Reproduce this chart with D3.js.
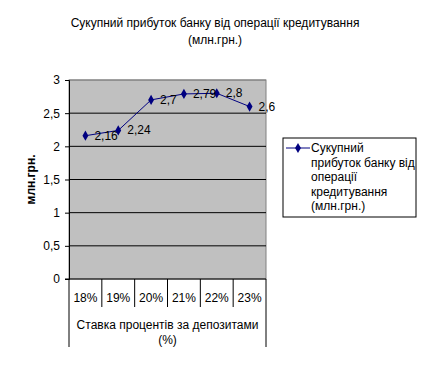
<!DOCTYPE html>
<html>
<head>
<meta charset="utf-8">
<script src="https://cdn.jsdelivr.net/npm/d3@7"></script>
<style>
  body { margin: 0; background: #fff; }
  svg { font-family: "Liberation Sans", Arial, sans-serif; }
</style>
</head>
<body>
<svg width="431" height="368"></svg>
<script>
// chart data
const categories = ["18%", "19%", "20%", "21%", "22%", "23%"];
const values = [2.16, 2.24, 2.7, 2.79, 2.8, 2.6];
const valueLabels = ["2,16", "2,24", "2,7", "2,79", "2,8", "2,6"];
const yTicks = [0, 0.5, 1, 1.5, 2, 2.5, 3];
const titleLines = ["Сукупний прибуток банку від операції кредитування", "(млн.грн.)"];
const yTitle = "млн.грн.";
const xTitleLines = ["Ставка процентів за депозитами", "(%)"];
const legendLines = ["Сукупний", "прибуток банку від", "операції", "кредитування", "(млн.грн.)"];

const svg = d3.select("svg");
const plotL = 69, plotR = 266, plotT = 80, plotB = 279;

const x = d3.scaleBand().domain(categories).range([plotL, plotR]);
const y = d3.scaleLinear().domain([0, 3]).range([plotB, plotT]);
const fmt = d => String(d).replace(".", ",");

// title
svg.append("g").selectAll("text").data(titleLines).join("text")
    .attr("x", 215).attr("y", (d, i) => 27 + i * 17)
    .attr("text-anchor", "middle")
    .attr("font-size", 12)
    .text(d => d);

// plot background
svg.append("rect")
    .attr("x", plotL).attr("y", plotT)
    .attr("width", plotR - plotL).attr("height", plotB - plotT)
    .attr("fill", "#c0c0c0").attr("stroke", "#808080");

// gridlines
svg.append("g").selectAll("line").data(yTicks.slice(1)).join("line")
    .attr("x1", plotL).attr("x2", plotR)
    .attr("y1", d => y(d)).attr("y2", d => y(d))
    .attr("stroke", d => d === 3 ? "#808080" : "#000");

// y axis
const yAxis = svg.append("g")
    .attr("transform", `translate(${plotL},0)`)
    .call(d3.axisLeft(y).tickValues(yTicks).tickFormat(fmt).tickSize(4).tickPadding(5));
yAxis.select(".domain").attr("stroke", "#000");
yAxis.selectAll("text").attr("font-size", 12).attr("font-family", "Liberation Sans, Arial, sans-serif").attr("fill", "#000");

// y title
svg.append("text")
    .attr("transform", `translate(35,${(plotT + plotB) / 2}) rotate(-90)`)
    .attr("text-anchor", "middle")
    .attr("font-size", 12).attr("font-weight", "bold")
    .text(yTitle);

// x axis table
svg.append("line").attr("x1", plotL - 4).attr("x2", plotR)
    .attr("y1", plotB).attr("y2", plotB).attr("stroke", "#000");
const bounds = categories.map(c => x(c)).concat([plotR]);
svg.append("g").selectAll("line").data(bounds).join("line")
    .attr("x1", d => d).attr("x2", d => d)
    .attr("y1", plotB)
    .attr("y2", (d, i) => (i === 0 || i === bounds.length - 1) ? 347 : 307)
    .attr("stroke", "#000");
svg.append("g").selectAll("text").data(categories).join("text")
    .attr("x", d => x(d) + x.bandwidth() / 2).attr("y", 302)
    .attr("text-anchor", "middle").attr("font-size", 12)
    .text(d => d);
svg.append("g").selectAll("text").data(xTitleLines).join("text")
    .attr("x", (plotL + plotR) / 2).attr("y", (d, i) => 329 + i * 15)
    .attr("text-anchor", "middle").attr("font-size", 12)
    .text(d => d);

// series
const cx = (d, i) => x(categories[i]) + x.bandwidth() / 2;
svg.append("path")
    .datum(values)
    .attr("fill", "none").attr("stroke", "#000080").attr("stroke-width", 1)
    .attr("d", d3.line().x(cx).y(d => y(d)));
const diamond = d3.symbol().type(d3.symbolDiamond).size(30);
svg.append("g").selectAll("path").data(values).join("path")
    .attr("transform", (d, i) => `translate(${cx(d, i)},${y(d)})`)
    .attr("d", diamond).attr("fill", "#000080");
svg.append("g").selectAll("text").data(values).join("text")
    .attr("x", (d, i) => cx(d, i) + 9).attr("y", d => y(d) + 4)
    .attr("font-size", 12)
    .text((d, i) => valueLabels[i]);

// legend
svg.append("rect").attr("x", 283).attr("y", 138).attr("width", 133).attr("height", 79)
    .attr("fill", "#fff").attr("stroke", "#000");
svg.append("line").attr("x1", 286).attr("x2", 310).attr("y1", 148).attr("y2", 148)
    .attr("stroke", "#000080");
svg.append("path").attr("transform", "translate(298,148)").attr("d", diamond).attr("fill", "#000080");
svg.append("g").selectAll("text").data(legendLines).join("text")
    .attr("x", 311).attr("y", (d, i) => 152 + i * 14.5)
    .attr("font-size", 12)
    .text(d => d);
</script>
</body>
</html>
